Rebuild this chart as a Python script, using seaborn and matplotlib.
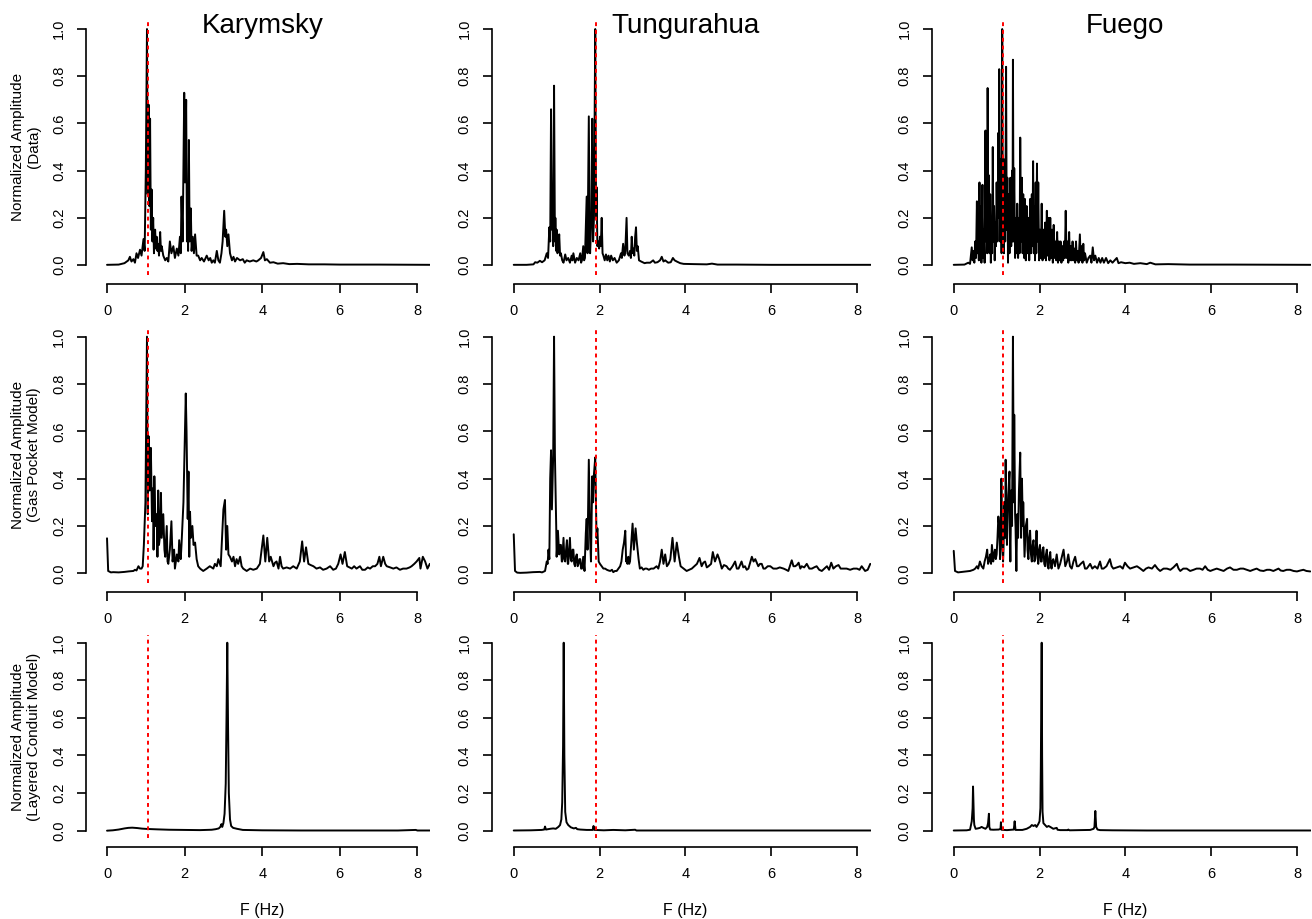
import numpy as np
import pandas as pd
import seaborn as sns
import matplotlib
matplotlib.use("Agg")
import matplotlib.pyplot as plt

# 스펙트럼 값 (주파수 Hz, 정규화 진폭) - 그림에서 읽은 값
kar_data = [(0.00,0.001),(0.30,0.002),(0.45,0.008),(0.55,0.02),(0.59,0.035),(0.63,0.015),(0.68,0.025),(0.72,0.01),(0.76,0.05),(0.80,0.03),(0.85,0.065),(0.89,0.04),(0.94,0.11),(0.97,0.06),(1.00,0.40),(1.03,1.00),(1.05,0.30),(1.07,0.68),(1.09,0.25),(1.11,0.62),(1.13,0.15),(1.15,0.32),(1.17,0.10),(1.19,0.20),(1.21,0.05),(1.24,0.15),(1.26,0.07),(1.28,0.12),(1.30,0.06),(1.32,0.09),(1.34,0.04),(1.37,0.14),(1.39,0.06),(1.41,0.08),(1.45,0.04),(1.50,0.02),(1.54,0.03),(1.58,0.015),(1.62,0.10),(1.66,0.05),(1.71,0.08),(1.75,0.03),(1.80,0.07),(1.84,0.04),(1.88,0.12),(1.90,0.05),(1.92,0.29),(1.95,0.10),(1.99,0.73),(2.01,0.35),(2.04,0.70),(2.06,0.10),(2.08,0.20),(2.09,0.06),(2.11,0.53),(2.13,0.10),(2.16,0.24),(2.18,0.06),(2.21,0.12),(2.24,0.05),(2.27,0.13),(2.31,0.04),(2.35,0.04),(2.40,0.02),(2.44,0.03),(2.50,0.015),(2.57,0.04),(2.62,0.02),(2.66,0.03),(2.70,0.01),(2.74,0.02),(2.78,0.01),(2.83,0.06),(2.87,0.02),(2.91,0.01),(2.95,0.05),(2.98,0.10),(3.02,0.23),(3.05,0.12),(3.07,0.15),(3.10,0.08),(3.13,0.13),(3.17,0.05),(3.22,0.02),(3.26,0.035),(3.30,0.015),(3.35,0.03),(3.43,0.02),(3.50,0.025),(3.55,0.01),(3.60,0.02),(3.68,0.015),(3.77,0.02),(3.85,0.015),(3.90,0.02),(3.97,0.03),(4.03,0.055),(4.07,0.02),(4.12,0.025),(4.20,0.01),(4.29,0.012),(4.40,0.006),(4.54,0.008),(4.70,0.004),(4.90,0.005),(5.20,0.003),(5.60,0.003),(6.00,0.002),(7.00,0.002),(8.32,0.001)]

tun_data = [(0.00,0.001),(0.30,0.001),(0.46,0.003),(0.50,0.012),(0.55,0.01),(0.61,0.018),(0.66,0.012),(0.72,0.02),(0.77,0.05),(0.80,0.03),(0.83,0.16),(0.85,0.10),(0.87,0.66),(0.89,0.15),(0.90,0.26),(0.92,0.08),(0.94,0.76),(0.96,0.10),(0.97,0.20),(0.99,0.06),(1.00,0.15),(1.02,0.05),(1.04,0.08),(1.06,0.13),(1.08,0.04),(1.10,0.05),(1.13,0.02),(1.16,0.01),(1.20,0.045),(1.23,0.02),(1.27,0.03),(1.31,0.01),(1.35,0.04),(1.37,0.02),(1.39,0.05),(1.43,0.01),(1.47,0.03),(1.51,0.02),(1.55,0.05),(1.57,0.01),(1.59,0.02),(1.62,0.08),(1.64,0.02),(1.66,0.03),(1.70,0.29),(1.72,0.05),(1.75,0.63),(1.77,0.10),(1.78,0.05),(1.81,0.20),(1.83,0.62),(1.85,0.10),(1.87,0.20),(1.89,0.74),(1.90,1.00),(1.92,0.20),(1.93,0.33),(1.95,0.08),(1.97,0.10),(1.99,0.07),(2.01,0.12),(2.03,0.08),(2.05,0.20),(2.07,0.05),(2.09,0.04),(2.12,0.02),(2.15,0.045),(2.18,0.02),(2.21,0.04),(2.24,0.015),(2.27,0.04),(2.31,0.02),(2.35,0.03),(2.40,0.01),(2.45,0.02),(2.50,0.05),(2.52,0.03),(2.55,0.09),(2.58,0.04),(2.60,0.06),(2.63,0.20),(2.65,0.05),(2.68,0.04),(2.71,0.06),(2.73,0.03),(2.75,0.12),(2.77,0.05),(2.79,0.07),(2.81,0.04),(2.83,0.12),(2.85,0.16),(2.87,0.06),(2.89,0.08),(2.92,0.02),(2.97,0.015),(3.05,0.008),(3.10,0.01),(3.18,0.01),(3.25,0.02),(3.29,0.01),(3.35,0.012),(3.41,0.02),(3.45,0.035),(3.49,0.015),(3.53,0.02),(3.60,0.01),(3.66,0.012),(3.71,0.03),(3.75,0.02),(3.80,0.015),(3.88,0.008),(3.96,0.005),(4.20,0.004),(4.50,0.003),(4.62,0.006),(4.75,0.002),(5.20,0.002),(6.00,0.001),(7.00,0.001),(8.32,0.001)]

fue_data = [(0.00,0.001),(0.25,0.002),(0.34,0.01),(0.38,0.005),(0.42,0.075),(0.44,0.02),(0.46,0.06),(0.48,0.01),(0.50,0.10),(0.52,0.03),(0.54,0.27),(0.555,0.05),(0.57,0.18),(0.585,0.02),(0.60,0.35),(0.615,0.05),(0.63,0.25),(0.645,0.01),(0.67,0.34),(0.685,0.03),(0.70,0.15),(0.72,0.01),(0.74,0.57),(0.755,0.10),(0.77,0.30),(0.78,0.05),(0.79,0.75),(0.805,0.20),(0.82,0.38),(0.835,0.05),(0.85,0.30),(0.865,0.01),(0.88,0.20),(0.895,0.05),(0.91,0.50),(0.925,0.10),(0.94,0.25),(0.955,0.02),(0.97,0.18),(0.985,0.08),(1.00,0.35),(1.02,0.10),(1.04,0.56),(1.05,0.20),(1.06,0.83),(1.08,0.10),(1.10,0.45),(1.115,0.05),(1.13,1.00),(1.145,0.15),(1.16,0.45),(1.17,0.05),(1.18,0.38),(1.20,0.10),(1.22,0.84),(1.235,0.15),(1.25,0.37),(1.265,0.01),(1.28,0.30),(1.30,0.05),(1.32,0.37),(1.34,0.08),(1.36,0.40),(1.37,0.10),(1.38,0.87),(1.395,0.10),(1.41,0.41),(1.43,0.03),(1.45,0.20),(1.465,0.05),(1.48,0.26),(1.50,0.03),(1.52,0.20),(1.535,0.05),(1.55,0.54),(1.57,0.10),(1.59,0.37),(1.605,0.05),(1.62,0.30),(1.64,0.03),(1.66,0.28),(1.68,0.02),(1.70,0.25),(1.72,0.05),(1.74,0.20),(1.76,0.02),(1.78,0.28),(1.80,0.05),(1.82,0.30),(1.835,0.08),(1.85,0.44),(1.865,0.05),(1.88,0.25),(1.895,0.02),(1.91,0.35),(1.925,0.05),(1.94,0.43),(1.955,0.10),(1.97,0.35),(1.99,0.02),(2.01,0.15),(2.03,0.03),(2.05,0.26),(2.07,0.02),(2.09,0.15),(2.11,0.03),(2.13,0.18),(2.15,0.02),(2.17,0.23),(2.19,0.04),(2.21,0.20),(2.23,0.02),(2.25,0.20),(2.27,0.03),(2.29,0.15),(2.31,0.01),(2.33,0.17),(2.35,0.03),(2.37,0.10),(2.39,0.02),(2.41,0.14),(2.43,0.01),(2.45,0.10),(2.47,0.02),(2.49,0.10),(2.51,0.01),(2.53,0.08),(2.55,0.02),(2.57,0.10),(2.59,0.03),(2.61,0.23),(2.63,0.03),(2.65,0.10),(2.67,0.01),(2.69,0.14),(2.71,0.02),(2.73,0.08),(2.75,0.02),(2.77,0.10),(2.79,0.02),(2.81,0.07),(2.83,0.01),(2.85,0.10),(2.87,0.02),(2.89,0.06),(2.91,0.01),(2.94,0.13),(2.96,0.02),(2.98,0.08),(3.00,0.01),(3.02,0.09),(3.04,0.02),(3.06,0.05),(3.10,0.01),(3.14,0.03),(3.18,0.04),(3.21,0.01),(3.24,0.075),(3.27,0.02),(3.30,0.04),(3.34,0.01),(3.38,0.03),(3.42,0.01),(3.46,0.03),(3.50,0.01),(3.55,0.03),(3.60,0.008),(3.65,0.02),(3.70,0.01),(3.75,0.02),(3.80,0.03),(3.84,0.008),(3.90,0.012),(4.00,0.008),(4.10,0.01),(4.20,0.005),(4.35,0.008),(4.50,0.004),(4.58,0.01),(4.70,0.003),(5.00,0.004),(5.50,0.002),(6.50,0.002),(8.32,0.001)]

kar_gas = [(0.00,0.148),(0.03,0.01),(0.10,0.004),(0.16,0.005),(0.30,0.004),(0.45,0.006),(0.55,0.008),(0.68,0.01),(0.72,0.015),(0.76,0.012),(0.81,0.03),(0.85,0.02),(0.89,0.02),(0.92,0.03),(0.95,0.12),(0.99,0.30),(1.03,1.00),(1.05,0.25),(1.07,0.58),(1.10,0.35),(1.13,0.53),(1.16,0.22),(1.19,0.36),(1.20,0.10),(1.22,0.41),(1.25,0.20),(1.28,0.25),(1.30,0.07),(1.32,0.35),(1.34,0.12),(1.36,0.15),(1.39,0.34),(1.41,0.15),(1.43,0.20),(1.45,0.25),(1.48,0.10),(1.50,0.07),(1.54,0.20),(1.56,0.05),(1.58,0.04),(1.62,0.10),(1.66,0.22),(1.69,0.05),(1.73,0.10),(1.75,0.02),(1.80,0.08),(1.84,0.05),(1.86,0.14),(1.90,0.06),(1.92,0.12),(1.97,0.30),(2.03,0.76),(2.05,0.60),(2.08,0.23),(2.10,0.43),(2.12,0.07),(2.14,0.26),(2.16,0.15),(2.20,0.20),(2.23,0.12),(2.27,0.13),(2.31,0.06),(2.35,0.03),(2.40,0.02),(2.48,0.01),(2.57,0.02),(2.65,0.03),(2.74,0.02),(2.78,0.04),(2.83,0.03),(2.87,0.06),(2.93,0.03),(3.00,0.27),(3.04,0.31),(3.07,0.10),(3.10,0.20),(3.13,0.08),(3.17,0.07),(3.22,0.05),(3.26,0.07),(3.30,0.03),(3.34,0.06),(3.38,0.04),(3.43,0.07),(3.47,0.03),(3.51,0.02),(3.60,0.01),(3.69,0.02),(3.77,0.015),(3.86,0.02),(3.94,0.04),(4.03,0.16),(4.08,0.05),(4.13,0.15),(4.18,0.05),(4.22,0.07),(4.29,0.03),(4.33,0.045),(4.37,0.05),(4.42,0.02),(4.46,0.07),(4.50,0.03),(4.54,0.02),(4.63,0.025),(4.72,0.02),(4.80,0.03),(4.89,0.02),(4.97,0.05),(5.03,0.135),(5.08,0.05),(5.13,0.11),(5.19,0.04),(5.25,0.035),(5.32,0.03),(5.40,0.02),(5.49,0.025),(5.57,0.015),(5.66,0.02),(5.75,0.03),(5.83,0.015),(5.90,0.02),(5.96,0.04),(6.02,0.08),(6.07,0.04),(6.13,0.09),(6.19,0.03),(6.25,0.025),(6.31,0.02),(6.37,0.03),(6.43,0.02),(6.52,0.03),(6.58,0.015),(6.65,0.015),(6.72,0.025),(6.78,0.02),(6.85,0.03),(6.91,0.03),(6.97,0.04),(7.02,0.07),(7.06,0.03),(7.12,0.07),(7.17,0.04),(7.21,0.03),(7.30,0.025),(7.38,0.02),(7.46,0.025),(7.55,0.015),(7.63,0.02),(7.72,0.02),(7.80,0.025),(7.85,0.03),(7.92,0.04),(7.98,0.05),(8.05,0.065),(8.08,0.02),(8.14,0.07),(8.20,0.05),(8.26,0.02),(8.32,0.04)]

tun_gas = [(0.00,0.165),(0.03,0.01),(0.08,0.003),(0.15,0.002),(0.30,0.003),(0.45,0.005),(0.61,0.006),(0.66,0.004),(0.73,0.01),(0.77,0.05),(0.79,0.04),(0.81,0.10),(0.83,0.06),(0.85,0.40),(0.87,0.52),(0.89,0.27),(0.92,0.50),(0.94,1.00),(0.96,0.50),(0.99,0.20),(1.00,0.07),(1.03,0.18),(1.06,0.08),(1.08,0.12),(1.10,0.12),(1.12,0.05),(1.13,0.05),(1.16,0.15),(1.18,0.06),(1.20,0.05),(1.22,0.10),(1.24,0.14),(1.26,0.04),(1.27,0.04),(1.31,0.15),(1.33,0.06),(1.35,0.05),(1.37,0.10),(1.39,0.10),(1.41,0.04),(1.43,0.03),(1.45,0.07),(1.47,0.08),(1.49,0.03),(1.51,0.04),(1.53,0.06),(1.55,0.06),(1.57,0.02),(1.59,0.02),(1.62,0.07),(1.65,0.01),(1.68,0.17),(1.70,0.23),(1.72,0.10),(1.75,0.48),(1.78,0.15),(1.80,0.05),(1.83,0.41),(1.85,0.30),(1.87,0.42),(1.90,0.49),(1.93,0.15),(1.95,0.19),(1.98,0.05),(2.01,0.04),(2.05,0.03),(2.09,0.02),(2.13,0.02),(2.17,0.015),(2.21,0.012),(2.25,0.01),(2.29,0.015),(2.32,0.005),(2.36,0.01),(2.40,0.01),(2.44,0.02),(2.48,0.03),(2.51,0.05),(2.54,0.10),(2.57,0.13),(2.60,0.18),(2.62,0.05),(2.63,0.06),(2.65,0.04),(2.67,0.07),(2.69,0.04),(2.71,0.05),(2.74,0.13),(2.77,0.21),(2.80,0.10),(2.84,0.19),(2.87,0.13),(2.91,0.06),(2.94,0.02),(2.98,0.025),(3.02,0.015),(3.06,0.02),(3.10,0.02),(3.15,0.015),(3.20,0.02),(3.26,0.02),(3.33,0.03),(3.37,0.02),(3.41,0.05),(3.45,0.10),(3.49,0.04),(3.53,0.08),(3.57,0.03),(3.61,0.04),(3.65,0.06),(3.70,0.15),(3.75,0.05),(3.80,0.13),(3.85,0.07),(3.89,0.03),(3.96,0.02),(4.03,0.01),(4.09,0.015),(4.15,0.02),(4.21,0.03),(4.27,0.04),(4.33,0.065),(4.38,0.03),(4.42,0.045),(4.46,0.05),(4.50,0.025),(4.54,0.03),(4.60,0.04),(4.64,0.09),(4.69,0.05),(4.75,0.08),(4.79,0.06),(4.85,0.02),(4.90,0.035),(4.96,0.03),(5.00,0.02),(5.04,0.015),(5.10,0.03),(5.16,0.05),(5.20,0.02),(5.24,0.02),(5.31,0.05),(5.35,0.025),(5.39,0.03),(5.43,0.015),(5.47,0.02),(5.55,0.07),(5.59,0.05),(5.63,0.06),(5.70,0.03),(5.74,0.04),(5.78,0.04),(5.82,0.02),(5.86,0.02),(5.92,0.03),(5.98,0.03),(6.05,0.02),(6.13,0.02),(6.20,0.025),(6.29,0.02),(6.35,0.015),(6.40,0.01),(6.48,0.055),(6.52,0.03),(6.56,0.03),(6.60,0.035),(6.64,0.045),(6.68,0.02),(6.71,0.03),(6.77,0.025),(6.83,0.04),(6.89,0.02),(6.95,0.02),(7.00,0.025),(7.06,0.03),(7.12,0.015),(7.18,0.01),(7.24,0.02),(7.30,0.03),(7.35,0.015),(7.40,0.045),(7.45,0.02),(7.51,0.03),(7.57,0.035),(7.62,0.02),(7.68,0.02),(7.76,0.02),(7.84,0.015),(7.92,0.02),(8.00,0.02),(8.06,0.015),(8.11,0.03),(8.19,0.01),(8.25,0.015),(8.31,0.04)]

fue_gas = [(0.00,0.095),(0.03,0.01),(0.10,0.004),(0.15,0.005),(0.22,0.006),(0.30,0.008),(0.38,0.01),(0.46,0.015),(0.50,0.02),(0.54,0.03),(0.57,0.02),(0.61,0.05),(0.65,0.03),(0.69,0.02),(0.72,0.05),(0.75,0.07),(0.78,0.10),(0.80,0.04),(0.82,0.05),(0.85,0.08),(0.87,0.04),(0.89,0.12),(0.92,0.05),(0.94,0.08),(0.96,0.10),(0.98,0.06),(1.00,0.08),(1.02,0.15),(1.04,0.24),(1.06,0.20),(1.08,0.06),(1.09,0.10),(1.11,0.40),(1.13,0.15),(1.15,0.05),(1.16,0.10),(1.18,0.30),(1.20,0.15),(1.21,0.48),(1.23,0.20),(1.24,0.12),(1.27,0.33),(1.30,0.43),(1.31,0.15),(1.32,0.05),(1.34,0.35),(1.36,0.20),(1.38,1.00),(1.40,0.30),(1.41,0.67),(1.43,0.25),(1.44,0.20),(1.46,0.01),(1.48,0.25),(1.50,0.15),(1.52,0.35),(1.55,0.51),(1.57,0.15),(1.59,0.40),(1.61,0.20),(1.62,0.30),(1.65,0.07),(1.67,0.15),(1.68,0.20),(1.71,0.23),(1.72,0.10),(1.74,0.06),(1.76,0.15),(1.78,0.18),(1.80,0.08),(1.82,0.05),(1.84,0.12),(1.86,0.14),(1.88,0.05),(1.90,0.06),(1.93,0.18),(1.95,0.08),(1.97,0.04),(1.99,0.10),(2.01,0.12),(2.03,0.05),(2.05,0.05),(2.07,0.10),(2.09,0.11),(2.11,0.04),(2.13,0.03),(2.15,0.08),(2.17,0.10),(2.19,0.03),(2.21,0.02),(2.23,0.07),(2.25,0.09),(2.27,0.03),(2.28,0.02),(2.30,0.05),(2.32,0.06),(2.36,0.03),(2.40,0.08),(2.44,0.02),(2.48,0.04),(2.52,0.07),(2.56,0.10),(2.60,0.03),(2.64,0.05),(2.67,0.08),(2.71,0.03),(2.75,0.02),(2.79,0.05),(2.83,0.07),(2.87,0.03),(2.91,0.03),(2.96,0.04),(3.02,0.05),(3.06,0.02),(3.10,0.02),(3.14,0.03),(3.18,0.04),(3.23,0.02),(3.29,0.03),(3.35,0.02),(3.41,0.05),(3.45,0.02),(3.49,0.02),(3.56,0.03),(3.64,0.06),(3.68,0.03),(3.72,0.02),(3.80,0.025),(3.88,0.03),(3.94,0.02),(3.99,0.045),(4.05,0.03),(4.11,0.02),(4.19,0.025),(4.27,0.03),(4.35,0.02),(4.42,0.01),(4.48,0.02),(4.54,0.025),(4.62,0.02),(4.69,0.035),(4.75,0.02),(4.81,0.01),(4.89,0.02),(4.97,0.02),(5.05,0.015),(5.12,0.025),(5.20,0.04),(5.24,0.02),(5.28,0.01),(5.35,0.02),(5.43,0.02),(5.51,0.01),(5.59,0.015),(5.66,0.02),(5.74,0.02),(5.80,0.015),(5.86,0.03),(5.92,0.015),(5.98,0.01),(6.05,0.015),(6.13,0.02),(6.21,0.015),(6.29,0.01),(6.37,0.02),(6.44,0.025),(6.52,0.015),(6.60,0.015),(6.68,0.02),(6.75,0.02),(6.83,0.015),(6.91,0.01),(6.98,0.015),(7.06,0.02),(7.14,0.012),(7.22,0.01),(7.30,0.015),(7.37,0.015),(7.45,0.01),(7.57,0.02),(7.62,0.012),(7.68,0.01),(7.76,0.015),(7.84,0.015),(7.92,0.01),(8.00,0.008),(8.08,0.012),(8.15,0.015),(8.22,0.01),(8.31,0.008)]

kar_lay = [(0.00,0.0),(0.15,0.002),(0.30,0.006),(0.45,0.012),(0.55,0.015),(0.65,0.016),(0.78,0.014),(0.90,0.011),(1.05,0.009),(1.30,0.007),(1.60,0.005),(2.00,0.004),(2.40,0.003),(2.70,0.005),(2.80,0.008),(2.88,0.012),(2.92,0.02),(2.95,0.035),(2.97,0.02),(3.00,0.04),(3.03,0.09),(3.06,0.25),(3.08,0.6),(3.10,1.00),(3.12,0.55),(3.14,0.2),(3.17,0.06),(3.20,0.025),(3.25,0.015),(3.35,0.01),(3.50,0.004),(4.00,0.002),(5.00,0.001),(6.00,0.001),(7.50,0.001),(7.96,0.004),(8.00,0.001),(8.32,0.001)]

tun_lay = [(0.00,0.001),(0.40,0.002),(0.65,0.004),(0.71,0.006),(0.73,0.022),(0.75,0.006),(0.80,0.008),(0.85,0.01),(0.92,0.012),(0.98,0.01),(1.04,0.02),(1.08,0.03),(1.11,0.06),(1.13,0.15),(1.15,0.45),(1.165,1.00),(1.18,0.4),(1.20,0.1),(1.23,0.045),(1.27,0.03),(1.33,0.018),(1.40,0.012),(1.45,0.015),(1.48,0.008),(1.55,0.006),(1.70,0.004),(1.84,0.004),(1.86,0.025),(1.88,0.004),(2.10,0.002),(2.32,0.004),(2.60,0.002),(2.83,0.005),(2.86,0.001),(4.00,0.001),(8.32,0.001)]

fue_lay = [(0.00,0.001),(0.30,0.002),(0.38,0.005),(0.42,0.05),(0.44,0.12),(0.45,0.235),(0.47,0.06),(0.48,0.03),(0.51,0.01),(0.56,0.012),(0.61,0.015),(0.65,0.02),(0.69,0.015),(0.74,0.01),(0.78,0.02),(0.80,0.04),(0.82,0.09),(0.83,0.02),(0.85,0.006),(0.92,0.005),(1.05,0.006),(1.09,0.01),(1.10,0.045),(1.11,0.005),(1.24,0.003),(1.40,0.006),(1.42,0.05),(1.44,0.004),(1.60,0.004),(1.70,0.01),(1.78,0.02),(1.82,0.03),(1.86,0.025),(1.90,0.03),(1.93,0.02),(1.97,0.035),(2.00,0.05),(2.02,0.12),(2.03,0.34),(2.05,1.00),(2.06,0.4),(2.07,0.1),(2.09,0.04),(2.13,0.03),(2.17,0.02),(2.21,0.025),(2.25,0.02),(2.32,0.01),(2.40,0.015),(2.42,0.005),(2.48,0.003),(2.66,0.003),(2.67,0.006),(2.70,0.002),(2.94,0.003),(3.18,0.004),(3.26,0.01),(3.28,0.02),(3.30,0.105),(3.32,0.02),(3.35,0.006),(3.41,0.003),(3.70,0.002),(4.50,0.001),(8.32,0.001)]

volcanoes = ["Karymsky", "Tungurahua", "Fuego"]
row_labels = ["Normalized Amplitude\n(Data)",
              "Normalized Amplitude\n(Gas Pocket Model)",
              "Normalized Amplitude\n(Layered Conduit Model)"]
ref_freq = [1.05, 1.91, 1.14]          # 빨간 점선 위치
x_ticks = [0, 2, 4, 6, 8]
y_ticks = [0.0, 0.2, 0.4, 0.6, 0.8, 1.0]

panels = [[kar_data, tun_data, fue_data],
          [kar_gas, tun_gas, fue_gas],
          [kar_lay, tun_lay, fue_lay]]

sns.set_style("ticks")
plt.rcParams["font.family"] = ["Liberation Sans", "DejaVu Sans"]
plt.rcParams.update({"text.color": "black", "axes.labelcolor": "black",
                     "xtick.color": "black", "ytick.color": "black",
                     "axes.edgecolor": "black"})

W, H = 1312, 919
fig = plt.figure(figsize=(W / 100, H / 100), dpi=100)

# 패널 위치 (픽셀): 열은 (left, width), 행은 (top, height)
col_box = [(94.6, 335.2), (500.0, 370.7), (940.0, 370.7)]
row_box = [(19.6, 254.9), (327.2, 255.6), (635.2, 203.0)]

for r in range(3):
    for c in range(3):
        l, w = col_box[c]
        t, h = row_box[r]
        ax = fig.add_axes([l / W, 1 - (t + h) / H, w / W, h / H])
        df = pd.DataFrame(panels[r][c], columns=["f", "amp"])
        sns.lineplot(data=df, x="f", y="amp", ax=ax, color="black",
                     lw=1.4, estimator=None, sort=False)
        ax.axvline(ref_freq[c], color="red", ls=(0, (2, 2)), lw=1.4)

        ax.set_xlim(-0.32, 8.32)
        ax.set_ylim(-0.04, 1.04)
        ax.spines["top"].set_visible(False)
        ax.spines["right"].set_visible(False)
        ax.spines["left"].set_position(("outward", 6))
        ax.spines["bottom"].set_position(("outward", 6.5))
        ax.spines["left"].set_bounds(0, 1)
        ax.spines["bottom"].set_bounds(0, 8)
        for s in ["left", "bottom"]:
            ax.spines[s].set_linewidth(1.2)
            ax.spines[s].set_color("black")
        ax.set_xticks(x_ticks)
        ax.set_xticklabels([str(v) for v in x_ticks])
        ax.set_yticks(y_ticks)
        ax.set_yticklabels([f"{v:.1f}" for v in y_ticks], rotation=90, va="center")
        ax.tick_params(length=6.5, width=1.2, labelsize=10.5, pad=8,
                       color="black", labelcolor="black")
        ax.set_xlabel("")
        ax.set_ylabel("")

        cx = (l + w / 2) / W
        if r == 0:
            fig.text(cx, 1 - 33.3 / H, volcanoes[c], ha="center", va="baseline",
                     fontsize=20, color="black")
        if r == 2:
            fig.text(cx, 1 - 915 / H, "F (Hz)", ha="center", va="baseline",
                     fontsize=11.5, color="black")
        if c == 0:
            fig.text(26.3 / W, 1 - (t + h / 2) / H, row_labels[r], rotation=90,
                     ha="center", va="center", multialignment="center",
                     fontsize=11, color="black")

fig.savefig("out.png", dpi=100)
